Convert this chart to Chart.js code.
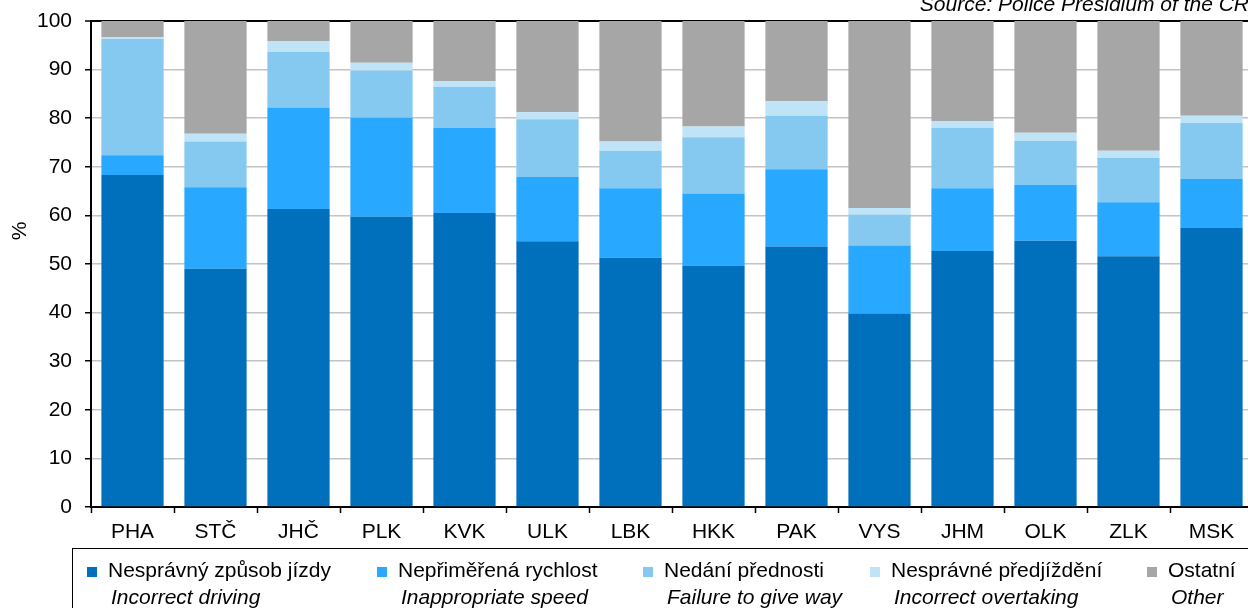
<!DOCTYPE html>
<html lang="cs">
<head>
<meta charset="utf-8">
<title>Příčiny nehod podle krajů</title>
<script src="https://cdn.jsdelivr.net/npm/chart.js@4/dist/chart.umd.min.js"></script>
<style>
    html, body { margin: 0; padding: 0; background: #fff; overflow: hidden; }
    #wrap { width: 1262px; height: 620px; }
</style>
</head>
<body>
<div id="wrap"><canvas id="causeChart" width="1262" height="620"></canvas></div>
<script>
// kraje
const regions = ["PHA", "STČ", "JHČ", "PLK", "KVK", "ULK", "LBK", "HKK", "PAK", "VYS", "JHM", "OLK", "ZLK", "MSK"];

// podíly v %
const incorrectDriving = [68.3, 49.0, 61.3, 59.7, 60.5, 54.7, 51.3, 49.7, 53.6, 39.8, 52.7, 54.8, 51.6, 57.5];
const inappropriateSpeed = [4.1, 16.8, 20.9, 20.4, 17.5, 13.2, 14.3, 14.8, 15.9, 14.0, 12.9, 11.5, 11.1, 10.0];
const failureToGiveWay = [23.9, 9.4, 11.4, 9.7, 8.4, 11.9, 7.7, 11.6, 11.0, 6.4, 12.4, 9.0, 9.1, 11.5];
const incorrectOvertaking = [0.4, 1.6, 2.3, 1.6, 1.2, 1.4, 1.9, 2.2, 3.0, 1.3, 1.4, 1.7, 1.5, 1.5];
const other = [3.3, 23.2, 4.1, 8.6, 12.4, 18.8, 24.8, 21.7, 16.5, 38.5, 20.6, 23.0, 26.7, 19.5];

const yTicks = [0, 10, 20, 30, 40, 50, 60, 70, 80, 90, 100];

const seriesNames = [
    ["Nesprávný způsob jízdy", "Incorrect driving"],
    ["Nepřiměřená rychlost", "Inappropriate speed"],
    ["Nedání přednosti", "Failure to give way"],
    ["Nesprávné předjíždění", "Incorrect overtaking"],
    ["Ostatní", "Other"]
];
const seriesColors = ["#0070bd", "#29a8ff", "#85c8f0", "#bfe3f7", "#a6a6a6"];
const sourceText = "Source: Police Presidium of the CR";
const yTitle = "%";

const FONT = "'Liberation Sans', Arial, sans-serif";

document.addEventListener("DOMContentLoaded", () => {
    const ctx = document.getElementById("causeChart").getContext("2d");
    const seriesData = [incorrectDriving, inappropriateSpeed, failureToGiveWay, incorrectOvertaking, other];

    // legenda ve dvou řádcích, zdroj a popisek osy
    const extrasPlugin = {
        id: "extras",
        afterDraw(chart) {
            const c = chart.ctx;
            c.save();
            c.fillStyle = "#000";
            c.font = "italic 21px " + FONT;
            c.textAlign = "right";
            c.textBaseline = "alphabetic";
            c.fillText(sourceText, 1249, 11);

            // % svisle
            c.save();
            c.translate(20, 231);
            c.rotate(-Math.PI / 2);
            c.font = "21px " + FONT;
            c.textAlign = "center";
            c.textBaseline = "middle";
            c.fillText(yTitle, 0, 0);
            c.restore();

            c.strokeStyle = "#000";
            c.lineWidth = 1;
            c.strokeRect(72.5, 548.5, 1300, 120);

            const itemX = [87, 377, 643, 870, 1147];
            seriesNames.forEach((names, i) => {
                c.fillStyle = seriesColors[i];
                c.fillRect(itemX[i], 567, 10, 10);
                c.fillStyle = "#000";
                c.textAlign = "left";
                c.font = "21px " + FONT;
                c.fillText(names[0], itemX[i] + 21, 577);
                c.font = "italic 21px " + FONT;
                c.fillText(names[1], itemX[i] + 24, 604);
            });
            c.restore();
        }
    };

    new Chart(ctx, {
        type: "bar",
        data: {
            labels: regions,
            datasets: seriesData.map((d, i) => ({
                label: seriesNames[i][0],
                data: d,
                backgroundColor: seriesColors[i],
                borderWidth: 0,
                categoryPercentage: 1.0,
                barPercentage: 0.75
            }))
        },
        options: {
            responsive: false,
            animation: false,
            layout: { padding: { left: 0, top: 21, right: 9, bottom: 73 } },
            plugins: {
                legend: { display: false },
                tooltip: { enabled: false }
            },
            scales: {
                x: {
                    stacked: true,
                    afterFit: (scale) => {
                        scale.height = 40;
                        scale.paddingLeft = 0;
                        scale.paddingRight = 0;
                    },
                    border: { color: "#000", width: 2 },
                    grid: {
                        drawOnChartArea: false,
                        drawTicks: true,
                        tickLength: 6,
                        tickColor: "#000",
                        tickWidth: 1.5
                    },
                    ticks: {
                        color: "#000",
                        padding: 7,
                        font: { family: FONT, size: 21 }
                    }
                },
                y: {
                    stacked: true,
                    min: 0,
                    max: 100,
                    afterFit: (scale) => {
                        scale.width = 91;
                        scale.paddingTop = 0;
                        scale.paddingBottom = 0;
                    },
                    afterBuildTicks: (scale) => { scale.ticks = yTicks.map(v => ({ value: v })); },
                    border: { color: "#000", width: 2 },
                    grid: {
                        color: (c) => (c.tick && (c.tick.value === 100 || c.tick.value === 0)) ? "#000" : "#c4c4c4",
                        lineWidth: (c) => (c.tick && c.tick.value === 100) ? 2 : 1.5,
                        tickLength: 6,
                        tickColor: "#000",
                        tickWidth: 1.5
                    },
                    ticks: {
                        color: "#000",
                        padding: 13,
                        font: { family: FONT, size: 21 }
                    }
                }
            }
        },
        plugins: [extrasPlugin]
    });
});
</script>
</body>
</html>
